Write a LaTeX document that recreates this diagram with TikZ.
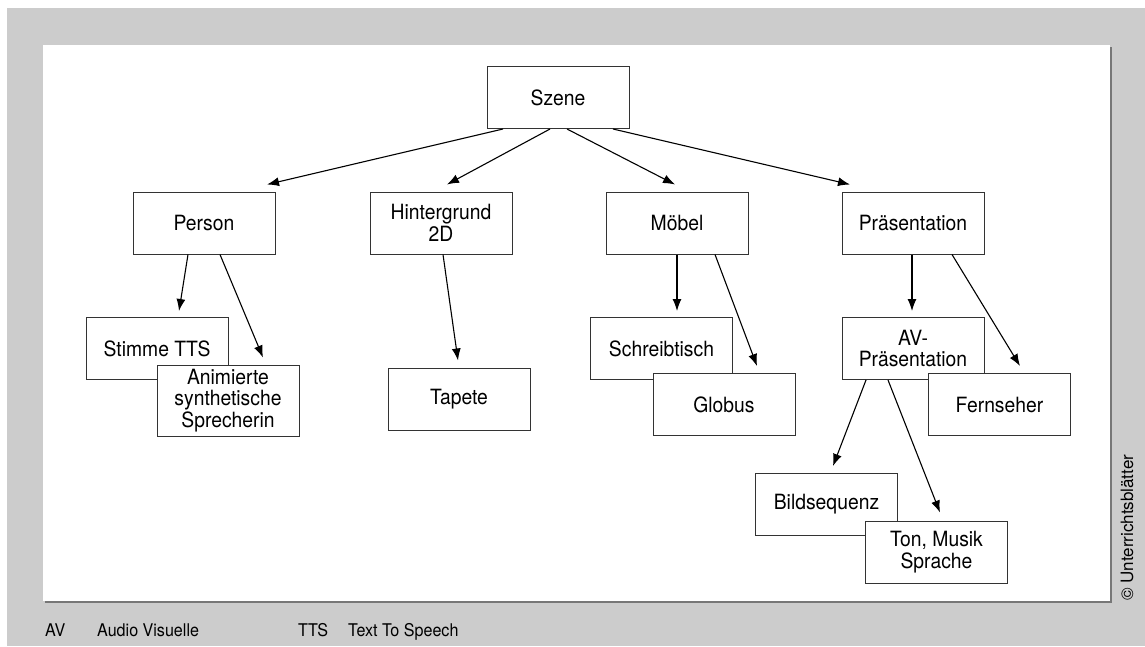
\documentclass[tikz,border=0pt]{standalone}
\usepackage{fontspec}
\setmainfont[FakeStretch=0.92]{TeX Gyre Heros}
\newfontfamily\widesans{TeX Gyre Heros}
\usetikzlibrary{arrows.meta,calc}
\definecolor{framegray}{HTML}{CCCCCC}
\definecolor{shadowgray}{HTML}{777777}
\definecolor{boxline}{HTML}{333333}
\tikzset{
  box/.style={draw=boxline, line width=1pt, fill=white, minimum width=142pt,
    minimum height=62pt, inner sep=0pt, align=center, font=\fontsize{21}{21.5}\selectfont},
  arr/.style={draw=black, line width=1.1pt, -{Latex[length=12pt,width=9pt]}},
  foot/.style={anchor=base west, inner sep=0pt, font=\fontsize{17.5}{18}\selectfont}
}
\begin{document}
\begin{tikzpicture}[x=1pt,y=-1pt]
  \useasboundingbox (0,0) rectangle (1145,646);
  % frame and white sheet with its shadow
  \fill[framegray] (7,8) rectangle (1145,646);
  \fill[shadowgray] (45,47) rectangle (1112,603);
  \fill[white] (43,45) rectangle (1110,601);

  % tree of boxes
  \node[box] (szene)  at (558,97.5) {Szene};
  \node[box] (person) at (204,223) {Person};
  \node[box] (hgrund) at (441,223) {Hintergrund\\2D};
  \node[box] (moebel) at (677,223) {Möbel};
  \node[box] (praes)  at (913,223) {Präsentation};

  \node[box] (stimme) at (157,348.5) {Stimme TTS};
  \node[box, minimum height=71pt] (anim) at (228,400.5) {Animierte\\synthetische\\Sprecherin};
  \node[box] (tapete) at (459,399) {Tapete};
  \node[box] (schreib) at (661.5,348.5) {Schreibtisch};
  \node[box] (globus) at (724,404.5) {Globus};
  \node[box] (avpraes) at (913,348.5) {AV-\\Präsentation};
  \node[box] (fernseh) at (999.5,404.5) {Fernseher};
  \node[box] (bild) at (826.5,504.5) {Bildsequenz};
  \node[box] (ton) at (936.5,552) {Ton, Musik\\Sprache};

  % connectors
  \draw[arr] ($(szene.south)+(-55,0)$) -- ($(person.north)+(63,-7)$);
  \draw[arr] ($(szene.south)+(-8,0)$)  -- ($(hgrund.north)+(6,-7)$);
  \draw[arr] ($(szene.south)+(9,0)$)   -- ($(moebel.north)+(-2,-7)$);
  \draw[arr] ($(szene.south)+(55,0)$)  -- ($(praes.north)+(-63,-7)$);

  \draw[arr] ($(person.south)+(-16,0)$) -- ($(stimme.north)+(22,-6)$);
  \draw[arr] ($(person.south)+(16,0)$)  -- ($(anim.north)+(35,-7)$);
  \draw[arr] ($(hgrund.south)+(2,0)$)   -- ($(tapete.north)+(-1,-7)$);
  \draw[arr] ($(moebel.south)+(0,0)$)   -- ($(schreib.north)+(15.5,-6)$);
  \draw[arr] ($(moebel.south)+(38,0)$)  -- ($(globus.north)+(33,-7)$);
  \draw[arr] ($(praes.south)+(-1,0)$)   -- ($(avpraes.north)+(-1,-6)$);
  \draw[arr] ($(praes.south)+(39,0)$)   -- ($(fernseh.north)+(20.5,-7)$);
  \draw[arr] ($(avpraes.south)+(-47,0)$) -- ($(bild.north)+(6.5,-7)$);
  \draw[arr] ($(avpraes.south)+(-25,0)$) -- ($(ton.north)+(3.5,-8)$);

  % legend
  \node[foot] (lav)  at (45,636)  {AV};
  \node[foot] (lavt) at (97,636)  {Audio Visuelle};
  \node[foot] (ltts) at (298,636) {TTS};
  \node[foot] (lttt) at (348,636) {Text To Speech};

  % copyright
  \node[rotate=90, anchor=west, inner sep=0pt, font=\widesans\fontsize{17}{17}\selectfont]
    (copy) at (1127,601) {© Unterrichtsblätter};
\end{tikzpicture}
\end{document}
